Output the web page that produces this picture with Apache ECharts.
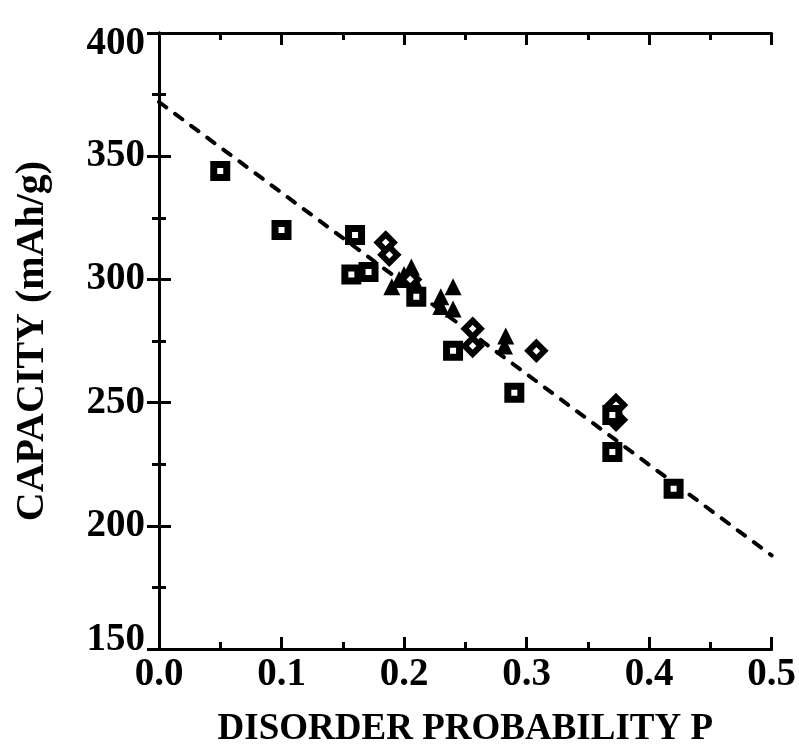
<!DOCTYPE html>
<html><head><meta charset="utf-8">
<script src="https://cdn.jsdelivr.net/npm/echarts@6/dist/echarts.min.js"></script>
<style>html,body{margin:0;padding:0;background:#fff}#c{width:799px;height:753px}</style>
</head><body><div id="c"></div>
<script>
const xTicks = [0, 0.1, 0.2, 0.3, 0.4, 0.5];
const yTicks = [150, 200, 250, 300, 350, 400];
const squares = [[0.05,344],[0.10,320],[0.16,318],[0.157,302],[0.171,303],[0.21,293],[0.24,271],[0.29,254],[0.37,245],[0.37,230],[0.42,215]];
const diamonds = [[0.185,315],[0.188,310],[0.205,300],[0.256,280],[0.256,273],[0.308,271],[0.373,249],[0.373,243]];
const triangles = [[0.19,297],[0.196,300],[0.200,302],[0.206,305],[0.208,300],[0.23,293],[0.23,289],[0.24,297],[0.24,288],[0.283,277],[0.282,273]];
const fitLine = [[0,372],[0.5,188]];

const font = '"Liberation Serif", "Times New Roman", serif';
const lbl = {fontFamily: font, fontWeight: 'bold', fontSize: 39, color: '#000'};
const chart = echarts.init(document.getElementById('c'));
const axLine = {show: true, lineStyle: {color: '#000', width: 3}};
const tick = {inside: true, length: 12, lineStyle: {width: 3, color: '#000'}};
const minor = {show: true, splitNumber: 2, length: 7, lineStyle: {width: 3, color: '#000'}};
chart.setOption({
  animation: false,
  backgroundColor: '#fff',
  grid: {left: 159, right: 24, top: 33, bottom: 103},
  xAxis: [
    {type: 'value', min: xTicks[0], max: xTicks[xTicks.length-1], interval: 0.1, position: 'bottom',
     axisLine: axLine, axisTick: tick, minorTick: minor, splitLine: {show: false},
     axisLabel: Object.assign({margin: 6, formatter: v => v.toFixed(1)}, lbl),
     name: 'DISORDER PROBABILITY P', nameLocation: 'middle', nameGap: 62,
     nameTextStyle: {fontFamily: font, fontWeight: 'bold', fontSize: 37, color: '#000'}},
    {type: 'value', min: 0, max: 0.5, interval: 0.1, position: 'top',
     axisLine: axLine, axisTick: tick, minorTick: minor, splitLine: {show: false}, axisLabel: {show: false}}
  ],
  yAxis: [
    {type: 'value', min: yTicks[0], max: yTicks[yTicks.length-1], interval: 50, position: 'left',
     axisLine: axLine, axisTick: tick, minorTick: minor, splitLine: {show: false},
     axisLabel: Object.assign({margin: 14,
       formatter: v => v === 400 ? '{t|' + v + '}' : (v === 150 ? '{b|' + v + '}' : String(v)),
       rich: {t: {fontFamily: font, fontWeight: 'bold', fontSize: 39, color: '#000', padding: [22, 0, 0, 0]},
              b: {fontFamily: font, fontWeight: 'bold', fontSize: 39, color: '#000', padding: [0, 0, 18, 0]}}}, lbl),
     name: 'CAPACITY (mAh/g)', nameLocation: 'middle', nameGap: 106,
     nameTextStyle: {fontFamily: font, fontWeight: 'bold', fontSize: 40, color: '#000'}},
    {type: 'value', min: 150, max: 400, interval: 50, position: 'right',
     axisLine: axLine, axisTick: tick, minorTick: minor, splitLine: {show: false}, axisLabel: {show: false}}
  ],
  series: [
    {type: 'line', data: fitLine, symbol: 'none', z: 1,
     lineStyle: {color: '#000', width: 4, type: [9, 11], cap: 'round'}},
    {type: 'scatter', data: triangles, symbol: 'triangle', symbolSize: 17, z: 3,
     itemStyle: {color: '#000', opacity: 1}},
    {type: 'scatter', data: diamonds, symbol: 'diamond', symbolSize: 16, z: 4,
     itemStyle: {color: '#fff', borderColor: '#000', borderWidth: 6, opacity: 1}},
    {type: 'scatter', data: squares, symbol: 'rect', symbolSize: 13, z: 5,
     itemStyle: {color: '#fff', borderColor: '#000', borderWidth: 7, opacity: 1}}
  ]
});
</script></body></html>
